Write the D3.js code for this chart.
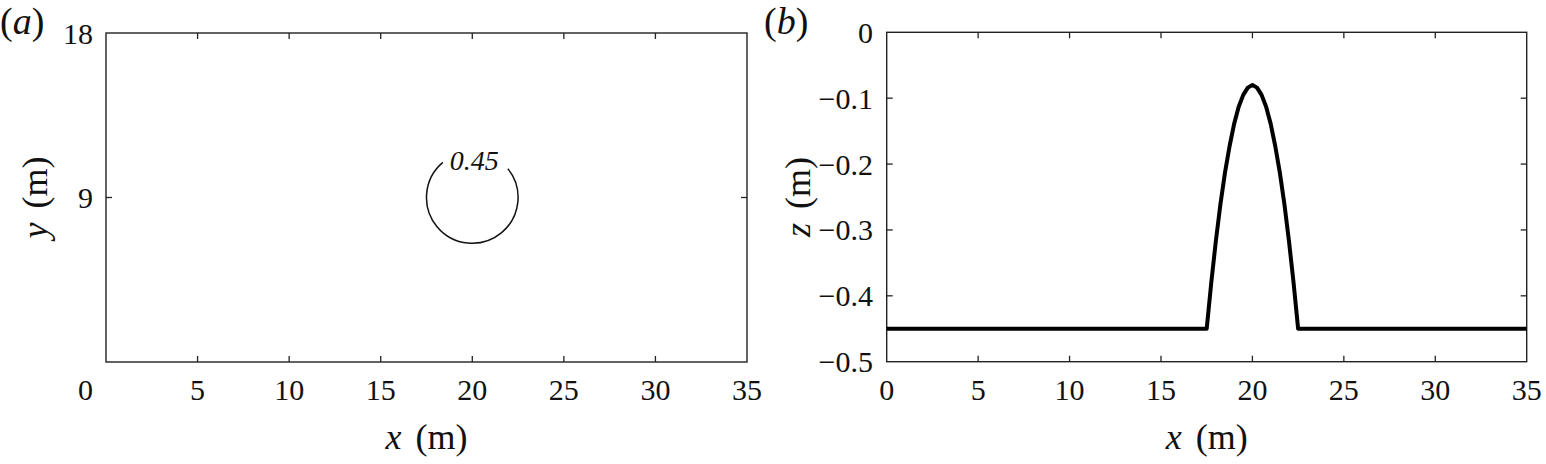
<!DOCTYPE html>
<html>
<head>
<meta charset="utf-8">
<script src="https://cdn.jsdelivr.net/npm/d3@7"></script>
<style>
  html, body { margin: 0; padding: 0; background: #fff; }
  svg { display: block; }
  text { font-family: "Liberation Serif", "Times New Roman", serif; fill: #111; }
</style>
</head>
<body>
<svg id="chart" width="1546" height="464"></svg>
<script>
// ---------- data ----------
const xTicks = [0, 5, 10, 15, 20, 25, 30, 35];
const yTicksA = [0, 9, 18];
const zTicks = [0, -0.1, -0.2, -0.3, -0.4, -0.5];

// panel (a): contour of the shoal toe
const contourLevel = "0.45";
const contourCenter = [20, 9];       // m
const contourRadius = 2.5;           // m
const contourGapDeg = [-40, 51];     // label gap, clockwise from north

// panel (b): bottom profile along y = 9 m
const profileX = [0, 17.5, 17.75, 18, 18.25, 18.5, 18.75, 19, 19.25, 19.5, 19.75, 20,
                  20.25, 20.5, 20.75, 21, 21.25, 21.5, 21.75, 22, 22.25, 22.5, 35];
const profileZ = [-0.45, -0.45, -0.380, -0.317, -0.261, -0.213, -0.173, -0.139, -0.113, -0.095, -0.084, -0.080,
                  -0.084, -0.095, -0.113, -0.139, -0.173, -0.213, -0.261, -0.317, -0.380, -0.45, -0.45];

// ---------- layout ----------
const svg = d3.select("#chart");
const ink = "#222";
const tickFont = 30, titleFont = 36, panelFont = 38;

const xa = d3.scaleLinear().domain([0, 35]).range([106, 747]);
const ya = d3.scaleLinear().domain([0, 18]).range([362, 33]);
const xb = d3.scaleLinear().domain([0, 35]).range([886.7, 1526.7]);
const yb = d3.scaleLinear().domain([-0.5, 0]).range([361.7, 32.3]);

function frame(xs, ys, xInner, yInner) {
  const g = svg.append("g");
  const [x0, x1] = xs.range(), [y0, y1] = ys.range();
  g.append("rect").attr("x", x0).attr("y", y1).attr("width", x1 - x0).attr("height", y0 - y1)
    .attr("fill", "none").attr("stroke", ink).attr("stroke-width", 1.4);
  const tl = 6;
  xInner.forEach(v => {
    const x = xs(v);
    g.append("line").attr("x1", x).attr("x2", x).attr("y1", y0).attr("y2", y0 - tl).attr("stroke", ink).attr("stroke-width", 1.3);
    g.append("line").attr("x1", x).attr("x2", x).attr("y1", y1).attr("y2", y1 + tl).attr("stroke", ink).attr("stroke-width", 1.3);
  });
  yInner.forEach(v => {
    const y = ys(v);
    g.append("line").attr("x1", x0).attr("x2", x0 + tl).attr("y1", y).attr("y2", y).attr("stroke", ink).attr("stroke-width", 1.3);
    g.append("line").attr("x1", x1).attr("x2", x1 - tl).attr("y1", y).attr("y2", y).attr("stroke", ink).attr("stroke-width", 1.3);
  });
  return g;
}

const fmtZ = v => v === 0 ? "0" : "\u2212" + Math.abs(v).toFixed(1);

// ---------- panel (a) ----------
const ga = frame(xa, ya, xTicks.slice(1, -1), yTicksA.slice(1, -1));
xTicks.forEach(v => {
  ga.append("text").attr("x", v === 0 ? 85.5 : xa(v)).attr("y", 400)
    .attr("text-anchor", "middle").attr("font-size", tickFont).text(v);
});
yTicksA.filter(v => v !== 0).forEach(v => {
  ga.append("text").attr("x", 93).attr("y", ya(v) + 10.5)
    .attr("text-anchor", "end").attr("font-size", tickFont).text(v);
});
// contour drawn as an open arc (gap left for its label)
const rPx = xa(contourRadius) - xa(0);
const cx = xa(contourCenter[0]), cy = ya(contourCenter[1]);
const a0 = contourGapDeg[1] * Math.PI / 180, a1 = (360 + contourGapDeg[0]) * Math.PI / 180;
const arcPath = d3.path();
arcPath.arc(cx, cy, rPx, a0 - Math.PI / 2, a1 - Math.PI / 2, false);
ga.append("path").attr("d", arcPath.toString()).attr("fill", "none").attr("stroke", "#111").attr("stroke-width", 1.5);
ga.append("text").attr("x", cx + 2).attr("y", cy - 28).attr("text-anchor", "middle")
  .attr("font-size", 28).attr("font-style", "italic").text(contourLevel);

// titles (a)
svg.append("text").attr("x", 0).attr("y", 34).attr("font-size", panelFont)
  .html('(<tspan font-style="italic">a</tspan>)');
svg.append("text").attr("x", (xa(0) + xa(35)) / 2).attr("y", 449).attr("text-anchor", "middle")
  .attr("font-size", titleFont).html('<tspan font-style="italic">x</tspan><tspan dx="5"> (m)</tspan>');
svg.append("text").attr("transform", `translate(47,${(ya(0) + ya(18)) / 2}) rotate(-90)`)
  .attr("text-anchor", "middle").attr("font-size", titleFont)
  .html('<tspan font-style="italic">y</tspan><tspan dx="5"> (m)</tspan>');

// ---------- panel (b) ----------
const gb = frame(xb, yb, xTicks.slice(1, -1), zTicks.slice(1, -1));
xTicks.forEach(v => {
  gb.append("text").attr("x", xb(v)).attr("y", 400)
    .attr("text-anchor", "middle").attr("font-size", tickFont).text(v);
});
zTicks.forEach(v => {
  gb.append("text").attr("x", 873).attr("y", yb(v) + 10.5)
    .attr("text-anchor", "end").attr("font-size", tickFont).text(fmtZ(v));
});
const line = d3.line().x((d, i) => xb(profileX[i])).y(d => yb(d)).curve(d3.curveLinear);
gb.append("path").attr("d", line(profileZ)).attr("fill", "none")
  .attr("stroke", "#000").attr("stroke-width", 4).attr("stroke-linejoin", "round");

svg.append("text").attr("x", 764).attr("y", 34).attr("font-size", panelFont)
  .html('(<tspan font-style="italic">b</tspan>)');
svg.append("text").attr("x", (xb(0) + xb(35)) / 2).attr("y", 449).attr("text-anchor", "middle")
  .attr("font-size", titleFont).html('<tspan font-style="italic">x</tspan><tspan dx="5"> (m)</tspan>');
svg.append("text").attr("transform", `translate(810,${(yb(0) + yb(-0.5)) / 2}) rotate(-90)`)
  .attr("text-anchor", "middle").attr("font-size", titleFont)
  .html('<tspan font-style="italic">z</tspan><tspan dx="5"> (m)</tspan>');
</script>
</body>
</html>
